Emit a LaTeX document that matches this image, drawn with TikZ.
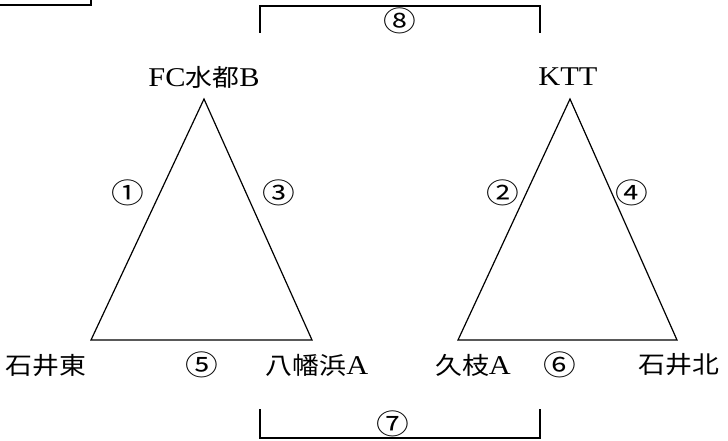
\documentclass[tikz,border=0pt]{standalone}
\usepackage{graphicx}
\usepackage{fontspec}
\setmainfont[Scale=1.13]{Liberation Serif}
\newfontfamily\cjk{Noto Sans CJK JP}
\newcommand\wide[1]{\scalebox{1.12}[1]{#1}}
\newcommand\wnum[1]{\scalebox{1.17}[1]{#1}}
\begin{document}
\begin{tikzpicture}[x=1pt,y=-1pt,
  lbl/.style={inner sep=0pt, font=\fontsize{24}{24}\selectfont},
  num/.style={inner sep=0pt, font=\cjk\fontsize{28}{28}\selectfont},
  edge/.style={line width=1.2pt, line join=miter},
  brk/.style={line width=1.8pt, line join=miter}]
\useasboundingbox (0,0) rectangle (728,441);
% partial box at top left
\coordinate (bx1) at (-3,5);
\coordinate (bx2) at (91,5);
\coordinate (bx3) at (91,-3);
\draw[brk] (bx1) -- (bx2) -- (bx3);
% triangles
\coordinate (A1) at (204,99);
\coordinate (B1) at (91,340);
\coordinate (C1) at (312,340);
\coordinate (A2) at (570,99);
\coordinate (B2) at (458,340);
\coordinate (C2) at (677,340);
\draw[edge] (A1) -- (B1) -- (C1) -- cycle;
\draw[edge] (A2) -- (B2) -- (C2) -- cycle;
% brackets
\coordinate (t1) at (260,33);
\coordinate (t2) at (260,6);
\coordinate (t3) at (540,6);
\coordinate (t4) at (540,33);
\draw[brk] (t1) -- (t2) -- (t3) -- (t4);
\coordinate (u1) at (260,409);
\coordinate (u2) at (260,438);
\coordinate (u3) at (540,438);
\coordinate (u4) at (540,409);
\draw[brk] (u1) -- (u2) -- (u3) -- (u4);
% team labels
\node[lbl] (fc) at (204,77) {\wide{FC{\cjk 水都}B}};
\node[lbl] (ktt) at (568,77) {\wide{KTT}};
\node[lbl] (ie) at (46,366) {\wide{\cjk 石井東}};
\node[lbl] (yh) at (317,365) {\wide{{\cjk 八幡浜}A}};
\node[lbl] (ke) at (473,365) {\wide{{\cjk 久枝}A}};
\node[lbl] (ik) at (679,365) {\wide{\cjk 石井北}};
% match numbers
\node[num] (n1) at (128,193) {\wnum{①}};
\node[num] (n3) at (279,193) {\wnum{③}};
\node[num] (n2) at (503,193) {\wnum{②}};
\node[num] (n4) at (632,193) {\wnum{④}};
\node[num] (n5) at (202,365) {\wnum{⑤}};
\node[num] (n6) at (560,365) {\wnum{⑥}};
\node[num] (n7) at (393,424) {\wnum{⑦}};
\node[num] (n8) at (400,21) {\wnum{⑧}};
\end{tikzpicture}
\end{document}
